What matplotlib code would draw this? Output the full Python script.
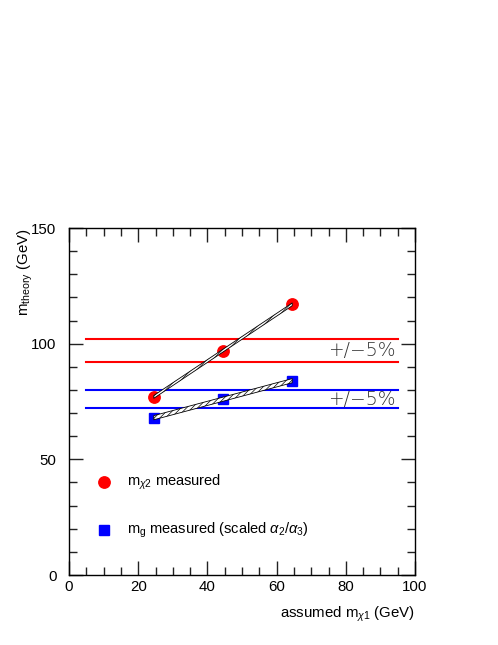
import matplotlib
matplotlib.use("Agg")
import matplotlib.pyplot as plt
from matplotlib.ticker import MultipleLocator
import numpy as np

plt.rcParams['font.family'] = ['Liberation Sans', 'DejaVu Sans']
plt.rcParams['mathtext.fontset'] = 'custom'
plt.rcParams['mathtext.rm'] = 'Liberation Sans'
plt.rcParams['mathtext.it'] = 'Liberation Sans:italic'
plt.rcParams['hatch.linewidth'] = 0.5

# data
x_assumed = [24.5, 44.5, 64.5]
m_chi2 = [77, 97, 117]
m_gluino = [68, 76, 84]
band_chi2_halfwidth = [0.6, 0.6, 0.6]
band_gluino_halfwidth = [0.9, 0.9, 0.9]
red_ref = 97
blue_ref = 76
pct = 0.05
line_x = [5, 95]
legend_labels = [r"m$_{\chi2}$ measured", r"m$_{\rm g}$ measured (scaled $\alpha_2/\alpha_3$)"]
band_text = "+/\u22125%"

fig = plt.figure(figsize=(4.98, 6.45), dpi=100)
ax = fig.add_axes([0.1386, 0.1085, 0.6948, 0.538])
ax.set_xlim(0, 100)
ax.set_ylim(0, 150)

# horizontal +/-5% lines
for ref, col in [(red_ref, '#ff0000'), (blue_ref, '#0000ff')]:
    for f in (1 + pct, 1 - pct):
        ax.plot(line_x, [ref * f, ref * f], color=col, lw=1.5, zorder=2)

# markers
ax.plot(x_assumed, m_chi2, 'o', color='#ff0000', ms=8.2, mec='#ff0000', zorder=3)
ax.plot(x_assumed, m_gluino, 's', color='#0000ff', ms=7.8, mec='#0000ff', zorder=3)

# hatched bands
xa = np.array(x_assumed)
for vals, hw in [(m_chi2, band_chi2_halfwidth), (m_gluino, band_gluino_halfwidth)]:
    v = np.array(vals, dtype=float)
    h = np.array(hw, dtype=float)
    ax.fill_between(xa, v - h, v + h, facecolor='white', edgecolor='black',
                    hatch='//////', lw=0.6, zorder=4)

# +/-5% labels
for ref in (red_ref, blue_ref):
    ax.text(94.5, ref, band_text, ha='right', va='center', fontsize=13.5,
            color='#333333', fontfamily='DejaVu Sans', fontweight='light')

# legend (manual, in data coordinates)
ax.plot([10], [40], 'o', color='#ff0000', ms=8.2, zorder=3)
ax.plot([10], [19.5], 's', color='#0000ff', ms=7.8, zorder=3)
ax.text(16.8, 40, legend_labels[0], ha='left', va='center', fontsize=10.5)
ax.text(16.8, 19.5, legend_labels[1], ha='left', va='center', fontsize=10.5)

# ticks
ax.xaxis.set_major_locator(MultipleLocator(20))
ax.xaxis.set_minor_locator(MultipleLocator(5))
ax.yaxis.set_major_locator(MultipleLocator(50))
ax.yaxis.set_minor_locator(MultipleLocator(10))
ax.tick_params(which='both', direction='in', top=True, right=True, labelsize=10.8,
               width=1.0, color='#222222')
ax.tick_params(which='major', length=10)
ax.tick_params(which='minor', length=6)
ax.tick_params(axis='y', which='major', pad=9)
for s in ax.spines.values():
    s.set_linewidth(1.0)

ax.set_xlabel(r"assumed m$_{\chi1}$ (GeV)", fontsize=10.8, loc='right', labelpad=8)
ax.set_ylabel(r"m$_{\rm theory}$ (GeV)", fontsize=10.8, loc='top', labelpad=-3)

fig.savefig("out.png", dpi=100)
